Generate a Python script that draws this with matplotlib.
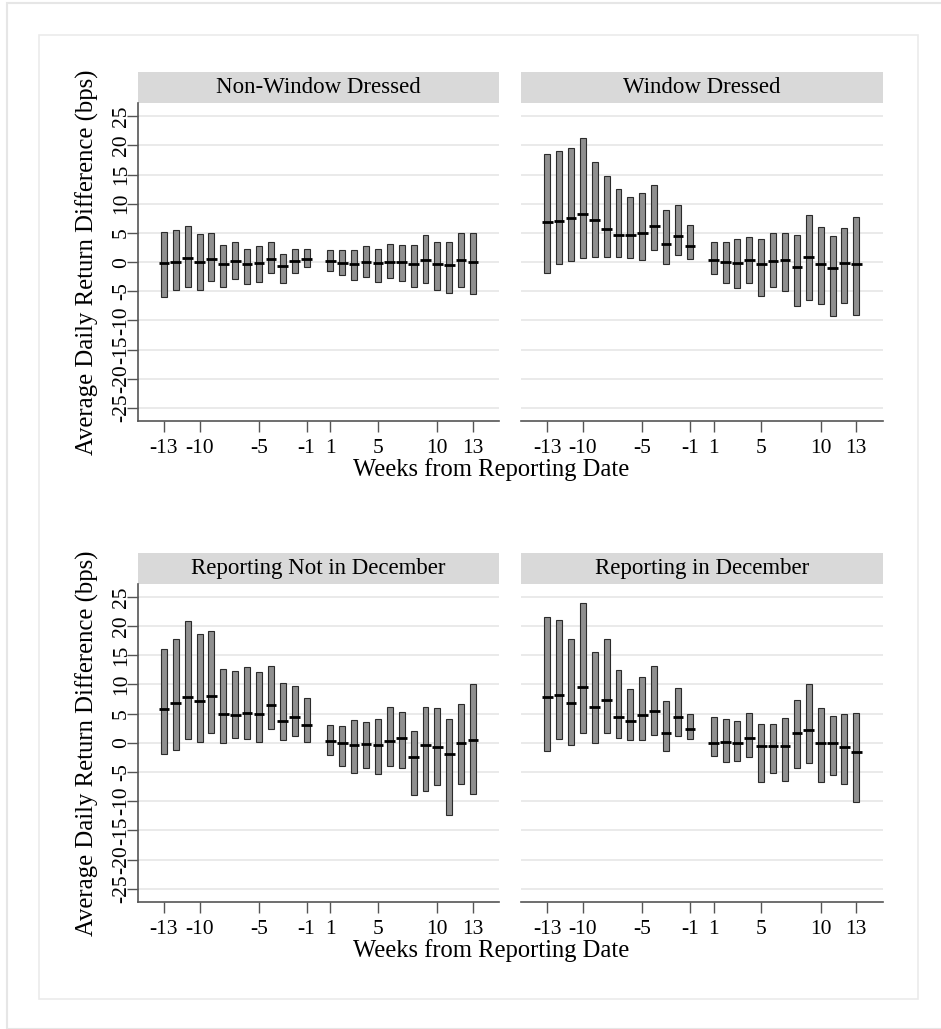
import matplotlib.pyplot as plt
from matplotlib.patches import Rectangle
import numpy as np

plt.rcParams['font.family'] = ['Liberation Serif', 'DejaVu Serif']
plt.rcParams['axes.unicode_minus'] = False

weeks = [-13, -12, -11, -10, -9, -8, -7, -6, -5, -4, -3, -2, -1,
         1, 2, 3, 4, 5, 6, 7, 8, 9, 10, 11, 12, 13]
xticks = [-13, -10, -5, -1, 1, 5, 10, 13]
yticks = [-25, -20, -15, -10, -5, 0, 5, 10, 15, 20, 25]

titles = ["Non-Window Dressed", "Window Dressed",
          "Reporting Not in December", "Reporting in December"]

# upper / lower bound and mean per week, in bps
nwd_hi = [5.2, 5.5, 6.1, 4.8, 5.0, 3.0, 3.4, 2.2, 2.8, 3.4, 1.4, 2.2, 2.2,
          2.1, 2.0, 2.1, 2.7, 2.2, 3.1, 3.0, 3.0, 4.7, 3.4, 3.5, 5.0, 4.9]
nwd_lo = [-5.9, -4.8, -4.3, -4.7, -3.2, -4.2, -2.9, -3.8, -3.4, -1.8, -3.6, -1.8, -0.9,
          -1.6, -2.2, -3.0, -2.5, -3.4, -2.8, -3.3, -4.3, -3.6, -4.7, -5.3, -4.3, -5.4]
nwd_mean = [-0.1, 0.1, 0.7, 0.1, 0.5, -0.3, 0.2, -0.3, -0.2, 0.5, -0.7, 0.2, 0.5,
            0.2, -0.1, -0.3, 0.1, -0.2, 0.1, 0.0, -0.3, 0.4, -0.3, -0.5, 0.3, 0.0]

wd_hi = [18.6, 19.0, 19.6, 21.2, 17.1, 14.7, 12.5, 11.2, 11.9, 13.2, 8.9, 9.7, 6.4,
         3.4, 3.5, 3.9, 4.3, 3.9, 5.0, 5.0, 4.7, 8.0, 6.0, 4.5, 5.9, 7.8]
wd_lo = [-1.8, -0.3, 0.2, 0.7, 0.9, 0.9, 0.9, 0.7, 0.3, 2.0, -0.4, 1.3, 0.5,
         -2.0, -3.6, -4.4, -3.6, -5.8, -4.2, -5.0, -7.5, -6.5, -7.1, -9.2, -7.0, -9.1]
wd_mean = [6.8, 7.1, 7.6, 8.2, 7.2, 5.6, 4.7, 4.7, 4.9, 6.2, 3.1, 4.5, 2.7,
           0.3, 0.1, -0.1, 0.4, -0.4, 0.2, 0.4, -0.8, 0.9, -0.4, -1.0, -0.2, -0.4]

nodec_hi = [16.1, 17.8, 20.9, 18.6, 19.1, 12.6, 12.3, 13.0, 12.2, 13.2, 10.3, 9.8, 7.6,
            3.0, 2.8, 3.9, 3.5, 4.0, 6.1, 5.3, 2.1, 6.2, 5.9, 4.1, 6.6, 10.0]
nodec_lo = [-1.9, -1.3, 0.6, 0.1, 1.7, -0.1, 0.9, 0.7, 0.1, 2.4, 0.4, 1.1, 0.2,
            -2.1, -3.9, -5.1, -4.3, -5.3, -4.0, -4.3, -8.9, -8.3, -7.3, -12.4, -7.0, -8.7]
nodec_mean = [5.8, 6.8, 7.9, 7.2, 8.0, 4.9, 4.8, 5.1, 4.9, 6.5, 3.7, 4.5, 3.1,
              0.3, -0.1, -0.3, -0.2, -0.3, 0.3, 0.8, -2.4, -0.3, -0.7, -2.0, 0.0, 0.5]

dec_hi = [21.6, 21.0, 17.7, 24.0, 15.6, 17.7, 12.4, 9.2, 11.2, 13.1, 7.1, 9.4, 4.9,
          4.4, 4.1, 3.7, 5.1, 3.2, 3.3, 4.2, 7.3, 10.1, 5.9, 4.6, 4.9, 5.1]
dec_lo = [-1.4, 0.6, -0.4, 1.6, 0.0, 1.7, 0.9, 0.5, 0.4, 1.3, -1.4, 1.1, 0.6,
          -2.2, -3.3, -3.2, -2.4, -6.7, -5.2, -6.5, -4.3, -3.5, -6.7, -5.5, -7.1, -10.1]
dec_mean = [7.8, 8.2, 6.9, 9.6, 6.1, 7.4, 4.4, 3.8, 4.7, 5.5, 1.7, 4.5, 2.4,
            0.0, 0.2, -0.1, 0.8, -0.5, -0.5, -0.5, 1.6, 2.2, 0.0, -0.1, -0.7, -1.6]

panels = [(nwd_lo, nwd_hi, nwd_mean), (wd_lo, wd_hi, wd_mean),
          (nodec_lo, nodec_hi, nodec_mean), (dec_lo, dec_hi, dec_mean)]

W, H = 941, 1029
fig = plt.figure(figsize=(W / 100, H / 100), dpi=100)

# background frames
fig.patches.append(Rectangle((7 / W, 0), 2, 1 - 3 / H, transform=fig.transFigure,
                             fill=False, edgecolor='#e6e6e6', lw=1.5))
fig.patches.append(Rectangle((39 / W, 1 - 999 / H), 879 / W, 964 / H,
                             transform=fig.transFigure, fill=False,
                             edgecolor='#ebebeb', lw=1.2))

lefts = [137.7, 521.0]
tops = [103.3, 584.0]
aw, ah = 361.5, 317.6
strip_h = 31.0
spine_col = '#555555'

for i, (lo, hi, mean) in enumerate(panels):
    col, row = i % 2, i // 2
    ax = fig.add_axes([lefts[col] / W, 1 - (tops[row] + ah) / H, aw / W, ah / H])
    x = np.array(weeks)
    lo = np.array(lo)
    hi = np.array(hi)
    ax.bar(x, hi - lo, bottom=lo, width=0.5, color='#8f8f8f',
           edgecolor='#2b2b2b', linewidth=0.8, zorder=3)
    ax.hlines(mean, x - 0.45, x + 0.45, color='black', lw=2, zorder=4)

    ax.set_xlim(-15.2, 15.2)
    ax.set_ylim(-27.2, 27.2)
    ax.set_xticks(xticks)
    ax.set_xticklabels([str(t) for t in xticks])
    ax.set_yticks(yticks)
    ax.grid(axis='y', color='#e8e8e8', lw=1.3, zorder=0)
    ax.set_axisbelow(True)
    for s in ['top', 'right']:
        ax.spines[s].set_visible(False)
    ax.spines['bottom'].set_color(spine_col)
    ax.spines['bottom'].set_linewidth(1.2)
    ax.tick_params(axis='x', length=8, width=1, color=spine_col,
                   labelsize=15.5, pad=5)
    if col == 0:
        ax.spines['left'].set_color(spine_col)
        ax.spines['left'].set_linewidth(1.2)
        ax.tick_params(axis='y', length=8, width=1, color=spine_col,
                       labelsize=15.5, labelrotation=90, pad=-3)
        for lab in ax.get_yticklabels():
            lab.set_va('center')
        ax.set_ylabel("Average Daily Return Difference (bps)", fontsize=17.8)
        ax.yaxis.set_label_coords(-0.108, 0.5)
    else:
        ax.spines['left'].set_visible(False)
        ax.tick_params(axis='y', left=False, labelleft=False)

    sh = strip_h / ah
    ax.add_patch(Rectangle((0, 1), 1, sh, transform=ax.transAxes,
                           facecolor='#d9d9d9', edgecolor='none', clip_on=False))
    ax.text(0.5, 1 + sh / 2, titles[i], transform=ax.transAxes, ha='center',
            va='center', fontsize=16.5)

for row in range(2):
    y = tops[row] + ah + 49
    fig.text(491 / W, 1 - y / H, "Weeks from Reporting Date", ha='center',
             va='center', fontsize=17.7)

fig.savefig("out.png", dpi=100, facecolor='white')
